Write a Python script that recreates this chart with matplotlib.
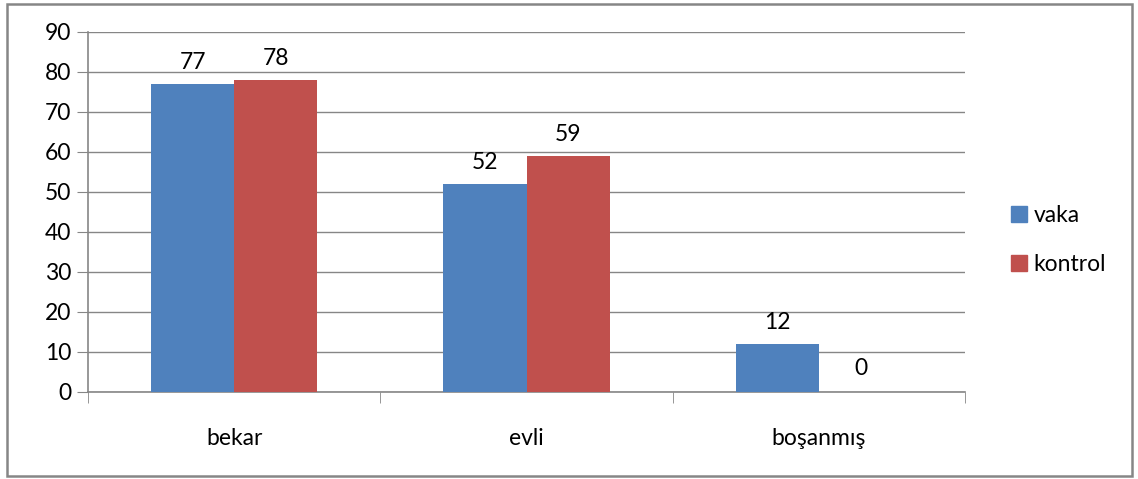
import matplotlib
matplotlib.use("Agg")
import matplotlib.pyplot as plt
import matplotlib.patches as patches
import numpy as np

plt.rcParams['font.family'] = ['Lato', 'DejaVu Sans']

categories = ["bekar", "evli", "boşanmış"]
vaka = [77, 52, 12]
kontrol = [78, 59, 0]
series_names = ["vaka", "kontrol"]
colors = ["#4F81BD", "#C0504D"]
yticks = list(range(0, 100, 10))

W, H = 1138, 479
fs = 16.5
fig = plt.figure(figsize=(W / 100, H / 100), dpi=100)

# outer frame
fig.patches.append(patches.Rectangle((7 / W, 3 / H), 1125 / W, 472 / H, transform=fig.transFigure,
                                     fill=False, edgecolor="#868686", linewidth=1.8))

ax = fig.add_axes([88 / W, (H - 392) / H, 877 / W, 360 / H])
x = np.arange(len(categories))
bw = 0.285
grid_c = "#868686"

for i, (vals, name) in enumerate(zip([vaka, kontrol], series_names)):
    pos = x + (i - 0.5) * bw
    ax.bar(pos, vals, bw, color=colors[i], label=name, zorder=3)
    for p, v in zip(pos, vals):
        off = 8 if v > 0 else 17
        ax.annotate(str(v), (p, v), xytext=(0, off), textcoords="offset points",
                    ha="center", va="bottom" if v > 0 else "center", fontsize=fs)

ax.set_xlim(-0.5, 2.5)
ax.set_ylim(0, 90)
ax.set_yticks(yticks)
ax.tick_params(axis="y", length=8, color=grid_c, labelsize=fs, pad=4)
ax.yaxis.grid(True, color=grid_c, linewidth=1, zorder=0)
ax.set_xticks(x)
ax.set_xticklabels(categories, fontsize=fs)
ax.tick_params(axis="x", length=0, pad=26)
ax.set_xticks([-0.5, 0.5, 1.5, 2.5], minor=True)
ax.tick_params(axis="x", which="minor", length=8, color=grid_c, direction="out")

for s in ["top", "right"]:
    ax.spines[s].set_visible(False)
for s in ["left", "bottom"]:
    ax.spines[s].set_color(grid_c)
    ax.spines[s].set_linewidth(1.2)

handles = [patches.Patch(color=c) for c in colors]
fig.legend(handles, series_names, loc="center left", bbox_to_anchor=(990 / W, 1 - 240 / H),
           frameon=False, fontsize=fs, handlelength=0.7, handleheight=0.7,
           handletextpad=0.3, labelspacing=1.2)

fig.savefig("out.png", dpi=100)
